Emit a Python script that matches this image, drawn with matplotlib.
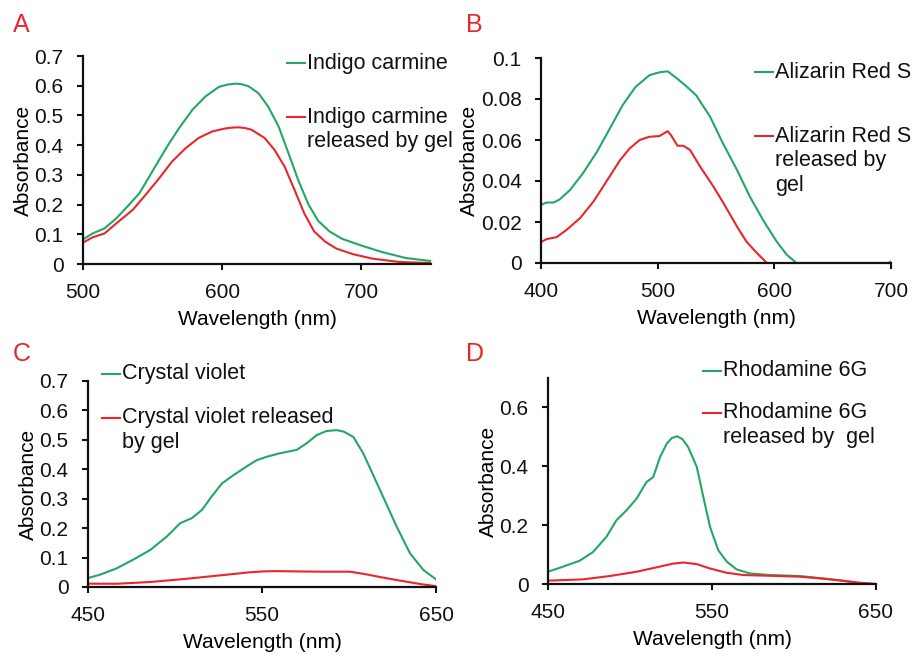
import matplotlib
matplotlib.use("Agg")
import matplotlib.pyplot as plt

plt.rcParams['font.family'] = ['Liberation Sans', 'DejaVu Sans']

GREEN = '#22a862'
RED = '#e8262b'
FS = 15

# ---- Panel A: Indigo carmine ----
a_green_x = [500, 507, 515.5, 524, 533, 540.5, 547.6, 554.8, 562, 569, 578.6, 588, 597.6, 604, 609.5,
             614, 619, 626, 633, 640.5, 647.6, 654.8, 662, 669, 677, 686, 700, 715, 732, 750]
a_green_y = [0.083, 0.103, 0.12, 0.154, 0.199, 0.238, 0.294, 0.351, 0.407, 0.457, 0.519, 0.564, 0.596,
             0.604, 0.607, 0.605, 0.598, 0.575, 0.53, 0.463, 0.373, 0.28, 0.20, 0.145, 0.11, 0.085,
             0.062, 0.04, 0.02, 0.01]
a_red_x = [500, 507, 515.5, 524, 535.7, 545, 554.8, 564, 573.8, 583, 592.8, 602, 607, 611.5, 616, 621,
           630.5, 637.6, 644.8, 652, 659, 666, 674, 682, 694, 708, 727, 750]
a_red_y = [0.072, 0.09, 0.103, 0.137, 0.182, 0.233, 0.289, 0.345, 0.39, 0.424, 0.446, 0.456, 0.459,
           0.46, 0.458, 0.452, 0.424, 0.384, 0.328, 0.249, 0.17, 0.11, 0.075, 0.052, 0.033, 0.018,
           0.007, 0.003]

# ---- Panel B: Alizarin Red S ----
b_green_x = [400, 405, 410.6, 416, 425, 436, 448, 459, 470, 481, 493, 501.4, 508.6, 515.7, 524, 533,
             545, 556, 568, 579, 591, 602, 610.7, 619, 650, 698, 700]
b_green_y = [0.0284, 0.0295, 0.0295, 0.031, 0.0357, 0.0438, 0.0543, 0.0656, 0.077, 0.0859, 0.0916,
             0.093, 0.0935, 0.0904, 0.0865, 0.0818, 0.0713, 0.0583, 0.0454, 0.0324, 0.0203, 0.0105,
             0.004, 0.0, 0.0, 0.0, 0.0008]
b_red_x = [400, 405, 413.4, 422, 433.5, 445, 456, 467.8, 476, 484.6, 493, 501.4, 508.6, 511.4, 517,
           522, 527.8, 536.4, 547.8, 556.4, 568, 576, 585, 593.6]
b_red_y = [0.0102, 0.0117, 0.0126, 0.0162, 0.0219, 0.030, 0.0397, 0.0502, 0.0559, 0.060, 0.0616,
           0.0619, 0.0643, 0.0624, 0.0572, 0.0572, 0.0551, 0.047, 0.0373, 0.0292, 0.0178, 0.0105,
           0.0049, 0.0]

# ---- Panel C: Crystal violet ----
c_green_x = [450, 457, 466.7, 476, 485.8, 495.4, 503, 509.7, 515.5, 521, 527, 533.6, 541, 547, 553,
             560, 570, 576, 581.4, 587, 592.9, 597, 602.5, 608.2, 617.8, 627.4, 635, 642.7, 650]
c_green_y = [0.0305, 0.042, 0.064, 0.093, 0.126, 0.172, 0.217, 0.234, 0.262, 0.307, 0.352, 0.380,
             0.409, 0.431, 0.443, 0.454, 0.466, 0.49, 0.516, 0.53, 0.533, 0.528, 0.51, 0.454, 0.33,
             0.205, 0.115, 0.058, 0.026]
c_red_x = [450, 466.7, 485.8, 505, 520, 531.6, 543, 550.8, 558, 570, 585, 600.6, 609, 617.8, 627,
           635, 642, 650]
c_red_y = [0.0113, 0.011, 0.017, 0.027, 0.036, 0.043, 0.050, 0.053, 0.054, 0.053, 0.052, 0.052,
           0.044, 0.034, 0.024, 0.016, 0.009, 0.003]

# ---- Panel D: Rhodamine 6G ----
d_green_x = [450, 459, 469.3, 477.5, 485.6, 491.7, 497.8, 504, 510, 514.2, 518.3, 522.4, 525.5, 528.8,
             532, 535.5, 540.7, 544.7, 548.8, 553.8, 559, 565, 573, 585, 603.6, 617.8, 630, 640, 650]
d_green_y = [0.0417, 0.0586, 0.079, 0.109, 0.160, 0.2165, 0.25, 0.29, 0.346, 0.364, 0.431, 0.477,
             0.496, 0.502, 0.492, 0.465, 0.398, 0.296, 0.194, 0.115, 0.076, 0.0496, 0.036, 0.0305,
             0.027, 0.019, 0.011, 0.0023, 0.0]
d_red_x = [450, 471.4, 487.6, 504, 516, 526, 532.5, 540.6, 548.6, 558.8, 569, 585, 603.6, 617.8,
           630, 640, 650]
d_red_y = [0.0113, 0.0158, 0.027, 0.0417, 0.0564, 0.069, 0.073, 0.0677, 0.053, 0.0383, 0.0305,
           0.028, 0.0248, 0.018, 0.011, 0.0045, 0.0]

W, H = 917, 655
fig = plt.figure(figsize=(W / 100, H / 100), dpi=100)


def px_axes(l, t, r, b):
    return fig.add_axes([l / W, 1 - b / H, (r - l) / W, (b - t) / H])


def style(ax, xlim, xticks, ylim, yticks, ytl):
    ax.set_xlim(*xlim)
    ax.set_ylim(*ylim)
    ax.set_xticks(xticks)
    ax.set_xticklabels([str(v) for v in xticks])
    ax.set_yticks(yticks)
    ax.set_yticklabels(ytl)
    for s in ['top', 'right']:
        ax.spines[s].set_visible(False)
    for s in ['left', 'bottom']:
        ax.spines[s].set_linewidth(1.6)
        ax.spines[s].set_color('#111111')
    ax.tick_params(direction='out', length=4.5, width=1.5, labelsize=FS, colors='#111111')
    ax.tick_params(axis='y', pad=9.5)
    ax.tick_params(axis='x', pad=9)
    ax.set_xlabel('Wavelength (nm)', fontsize=FS, labelpad=6)
    ax.set_ylabel('Absorbance', fontsize=FS, labelpad=1)


def legend(lx, entries):
    # entries: list of (color, y_px, lines)
    for color, y, lines in entries:
        fig.add_artist(plt.Line2D([lx / W, (lx + 18) / W], [1 - y / H, 1 - y / H],
                                  color=color, lw=1.5))
        for i, line in enumerate(lines):
            fig.text((lx + 20) / W, 1 - (y + i * 24.5) / H, line, fontsize=15.5,
                     va='center', ha='left', color='#111111')


def panel_label(x, y, s):
    fig.text(x / W, 1 - y / H, s, fontsize=18, color='#e8262b', va='center', ha='left')


# A
axA = px_axes(83, 56, 431, 264)
axA.plot(a_green_x, a_green_y, color=GREEN, lw=1.5)
axA.plot(a_red_x, a_red_y, color=RED, lw=1.5)
style(axA, (500, 750), [500, 600, 700], (0, 0.7), [0, 0.1, 0.2, 0.3, 0.4, 0.5, 0.6, 0.7],
      ['0', '0.1', '0.2', '0.3', '0.4', '0.5', '0.6', '0.7'])
legend(287, [(GREEN, 63, ['Indigo carmine']), (RED, 117, ['Indigo carmine', 'released by gel'])])
panel_label(13, 25, 'A')

# B
axB = px_axes(541, 58, 891, 263)
axB.plot(b_green_x, b_green_y, color=GREEN, lw=1.5)
axB.plot(b_red_x, b_red_y, color=RED, lw=1.5)
style(axB, (400, 700), [400, 500, 600, 700], (0, 0.1), [0, 0.02, 0.04, 0.06, 0.08, 0.1],
      ['0', '0.02', '0.04', '0.06', '0.08', '0.1'])
legend(755, [(GREEN, 72, ['Alizarin Red S']), (RED, 136, ['Alizarin Red S', 'released by', 'gel'])])
panel_label(466, 25, 'B')

# C
axC = px_axes(88, 381, 436, 587)
axC.plot(c_green_x, c_green_y, color=GREEN, lw=1.5)
axC.plot(c_red_x, c_red_y, color=RED, lw=1.5)
style(axC, (450, 650), [450, 550, 650], (0, 0.7), [0, 0.1, 0.2, 0.3, 0.4, 0.5, 0.6, 0.7],
      ['0', '0.1', '0.2', '0.3', '0.4', '0.5', '0.6', '0.7'])
legend(102, [(GREEN, 374, ['Crystal violet']), (RED, 418, ['Crystal violet released', 'by gel'])])
panel_label(13, 354, 'C')

# D
axD = px_axes(548, 378, 876, 584)
axD.plot(d_green_x, d_green_y, color=GREEN, lw=1.5)
axD.plot(d_red_x, d_red_y, color=RED, lw=1.5)
style(axD, (450, 650), [450, 550, 650], (0, 0.7), [0, 0.2, 0.4, 0.6],
      ['0', '0.2', '0.4', '0.6'])
legend(703, [(GREEN, 371, ['Rhodamine 6G']), (RED, 413, ['Rhodamine 6G', 'released by  gel'])])
panel_label(466, 354, 'D')

fig.savefig('out.png', dpi=100)
